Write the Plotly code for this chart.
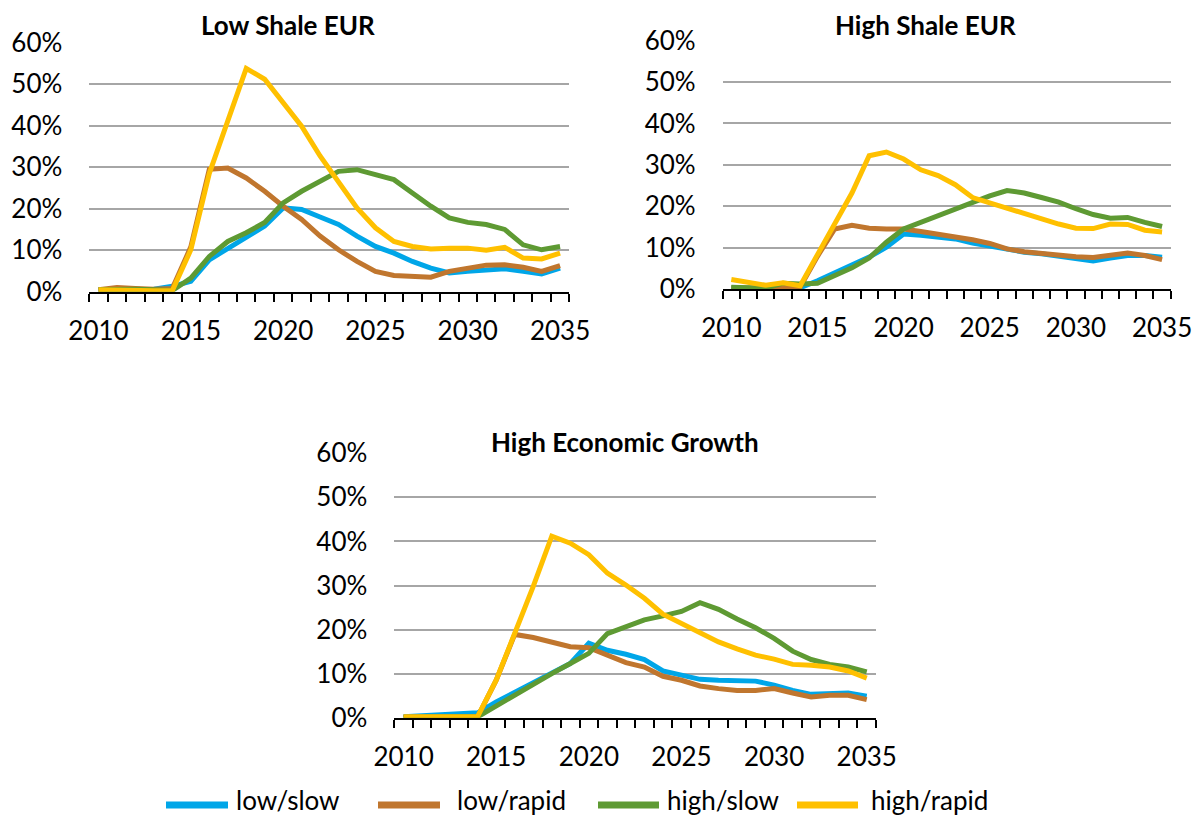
import plotly.graph_objects as go

W, H = 1193, 818

years = list(range(2010, 2036))
tick_years = [2010, 2015, 2020, 2025, 2030, 2035]
series_names = ["low/slow", "low/rapid", "high/slow", "high/rapid"]
panel_titles = ["Low Shale EUR", "High Shale EUR", "High Economic Growth"]

# Low Shale EUR (percent)
lse_low_slow = [0.5, 0.5, 0.5, 0.6, 1.3, 2.5, 7.7, 10.5, 13.2, 15.8, 20.2, 19.8, 18.0, 16.2, 13.4, 10.9, 9.3, 7.3, 5.7, 4.5, 4.9, 5.1, 5.5, 4.9, 4.3, 5.7]
lse_low_rapid = [0.5, 1.0, 0.8, 0.6, 0.8, 10.8, 29.5, 29.8, 27.4, 24.2, 20.6, 17.4, 13.4, 10.1, 7.3, 4.9, 3.9, 3.7, 3.5, 4.9, 5.7, 6.4, 6.5, 5.9, 4.9, 6.3]
lse_high_slow = [0.5, 0.7, 0.6, 0.5, 0.3, 3.3, 8.5, 12.1, 14.2, 16.7, 21.4, 24.2, 26.6, 29.0, 29.4, 28.2, 27.0, 23.8, 20.6, 17.8, 16.7, 16.2, 15.0, 11.3, 10.1, 10.9]
lse_high_rapid = [0.5, 0.3, 0.2, 0.2, 0.3, 10.1, 28.5, 41.5, 53.8, 51.2, 45.5, 39.9, 32.7, 26.2, 20.2, 15.4, 12.1, 10.9, 10.3, 10.5, 10.5, 10.0, 10.7, 8.1, 7.9, 9.3]

# High Shale EUR (percent)
hse_low_slow = [0.2, 0.2, 0.2, 0.5, 0.3, 2.0, 3.9, 5.7, 7.7, 10.1, 13.3, 13.0, 12.5, 12.1, 11.1, 10.3, 9.5, 8.9, 8.5, 7.9, 7.3, 6.8, 7.5, 8.1, 8.1, 7.7]
hse_low_rapid = [0.3, 0.3, 0.2, 0.6, 0.5, 7.9, 14.5, 15.4, 14.7, 14.5, 14.5, 13.9, 13.3, 12.7, 11.9, 11.0, 9.7, 9.0, 8.5, 8.1, 7.8, 7.6, 8.3, 8.7, 8.1, 7.1]
hse_high_slow = [0.4, 0.4, 0.2, 1.4, 1.2, 1.4, 3.1, 5.1, 7.5, 11.3, 14.5, 16.1, 18.0, 19.4, 20.9, 22.5, 23.8, 23.2, 22.1, 21.0, 19.4, 18.0, 17.1, 17.3, 16.1, 15.1]
hse_high_rapid = [2.3, 1.5, 0.9, 1.5, 0.8, 8.3, 15.9, 23.2, 32.2, 33.1, 31.4, 28.8, 27.4, 25.2, 22.1, 20.8, 19.3, 18.1, 16.9, 15.7, 14.7, 14.6, 15.7, 15.6, 14.2, 13.8]

# High Economic Growth (percent)
heg_low_slow = [0.2, 0.4, 0.5, 0.8, 1.1, 3.6, 5.8, 8.0, 10.0, 12.3, 16.9, 15.3, 14.4, 13.2, 10.6, 9.6, 8.7, 8.5, 8.3, 8.3, 7.4, 6.2, 5.3, 5.5, 5.6, 4.9]
heg_low_rapid = [0.1, 0.1, 0.1, 0.1, 0.2, 8.5, 18.9, 18.2, 17.2, 16.1, 15.9, 14.2, 12.5, 11.5, 9.4, 8.5, 7.2, 6.6, 6.2, 6.2, 6.6, 5.6, 4.7, 5.1, 5.1, 4.1]
heg_high_slow = [0.1, 0.2, 0.2, 0.2, 0.2, 2.7, 5.1, 7.7, 10.0, 12.3, 14.6, 19.1, 20.7, 22.2, 23.1, 24.1, 26.1, 24.6, 22.4, 20.4, 18.0, 15.1, 13.2, 12.1, 11.5, 10.4]
heg_high_rapid = [0.2, 0.2, 0.3, 0.3, 0.3, 8.5, 19.1, 29.8, 41.2, 39.6, 37.0, 32.8, 30.1, 27.1, 23.5, 21.4, 19.1, 17.2, 15.6, 14.2, 13.3, 12.1, 11.9, 11.5, 10.6, 9.0]

panels = [
    [lse_low_slow, lse_low_rapid, lse_high_slow, lse_high_rapid],
    [hse_low_slow, hse_low_rapid, hse_high_slow, hse_high_rapid],
    [heg_low_slow, heg_low_rapid, heg_high_slow, heg_high_rapid],
]

colors = ["#00A6E8", "#C0762E", "#5E9A33", "#FFC000"]
FONT = "Lato, 'Open Sans', sans-serif"

# plot-area boxes in pixels: (left, top, right, bottom)
boxes = [
    (89.3, 42.7, 569.3, 291.7),
    (722.7, 40.7, 1170.7, 289.0),
    (394.3, 453.3, 876.0, 717.7),
]
title_pos = [(288, 25), (925, 25), (625, 442)]

fig = go.Figure()
layout = dict(
    width=W, height=H,
    margin=dict(l=0, r=0, t=0, b=0, pad=0),
    paper_bgcolor="white", plot_bgcolor="white",
    showlegend=False,
    font=dict(family=FONT, color="black"),
)

annotations = []
shapes = []
for i, (data, box) in enumerate(zip(panels, boxes)):
    ax = "" if i == 0 else str(i + 1)
    for name, vals, col in zip(series_names, data, colors):
        fig.add_trace(go.Scatter(
            x=years, y=[v / 100 for v in vals], mode="lines", name=name,
            line=dict(color=col, width=5), xaxis="x" + ax, yaxis="y" + ax,
            showlegend=False,
        ))
    l, t, r, b = box
    layout["xaxis" + ax] = dict(
        domain=[l / W, r / W], anchor="y" + ax, automargin=False,
        range=[2009.5, 2035.5], tickmode="array", tickvals=tick_years,
        ticks="", showgrid=False, zeroline=False,
        showline=True, linecolor="black", linewidth=2,
        tickfont=dict(size=26, family=FONT, color="black"),
        ticklabelstandoff=15,
        minor=dict(tickmode="linear", tick0=2009.5, dtick=1, ticks="outside",
                   ticklen=8, tickwidth=2, tickcolor="black", showgrid=False),
    )
    layout["yaxis" + ax] = dict(
        domain=[1 - b / H, 1 - t / H], anchor="x" + ax, automargin=False,
        range=[0, 0.6], dtick=0.1, tickformat=".0%",
        showgrid=True, gridcolor="#A6A6A6", gridwidth=2,
        zeroline=False, showline=False, ticks="",
        tickfont=dict(size=26, family=FONT, color="black"),
        ticklabelstandoff=26,
    )
    tx, ty = title_pos[i]
    annotations.append(dict(
        x=tx / W, y=1 - ty / H, xref="paper", yref="paper",
        text="<b>" + panel_titles[i] + "</b>", showarrow=False,
        xanchor="center", yanchor="middle",
        font=dict(size=26, family=FONT, color="black"),
    ))

# legend (drawn manually, wide line keys like the original)
legend_keys = [(166, 228, 235), (378, 440, 456), (598, 659, 666), (797, 858, 870)]
legend_y = 805
for (x0, x1, xt), name, col in zip(legend_keys, series_names, colors):
    shapes.append(dict(type="line", xref="paper", yref="paper",
                       x0=x0 / W, x1=x1 / W, y0=1 - legend_y / H, y1=1 - legend_y / H,
                       line=dict(color=col, width=7)))
    annotations.append(dict(
        x=xt / W, y=1 - 800 / H, xref="paper", yref="paper", text=name,
        showarrow=False, xanchor="left", yanchor="middle", borderpad=0,
        font=dict(size=26, family=FONT, color="black"),
    ))

layout["annotations"] = annotations
layout["shapes"] = shapes
fig.update_layout(**layout)

fig.write_html("out.html", config={"displayModeBar": False},
               post_script="document.body.style.margin='0';")
